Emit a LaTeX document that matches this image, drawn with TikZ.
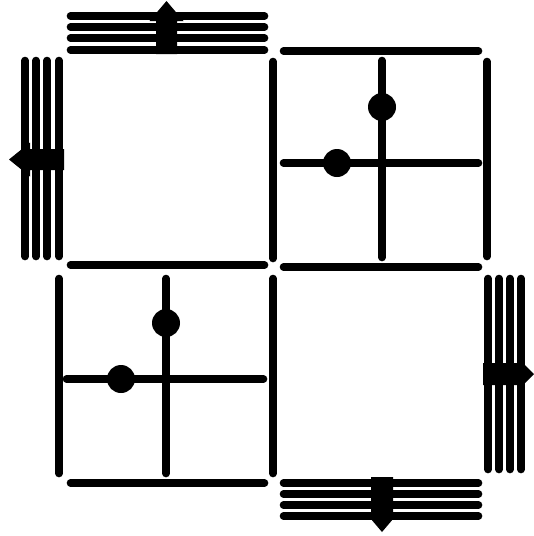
\documentclass[tikz,border=0pt]{standalone}
\tikzset{
  wall/.style={line width=7.6pt, line cap=round, draw=black},
  bead/.style={fill=black},
  bigarrow/.style={fill=black}
}
\begin{document}
\begin{tikzpicture}[x=1pt,y=-1pt]
\useasboundingbox (0,0) rectangle (534,536);
% top-left cell
\foreach \y in {16,27,38,50} \draw[wall] (70.5,\y) -- (264.5,\y);
\foreach \x in {25,36,47,59} \draw[wall] (\x,60.5) -- (\x,256.5);
\draw[wall] (273,61.5) -- (273,258.5);
\draw[wall] (70.5,265) -- (264.5,265);
% top-right cell
\draw[wall] (283.5,51) -- (478.5,51);
\draw[wall] (487,61.5) -- (487,256.5);
\draw[wall] (382,60.5) -- (382,257.5);
\draw[wall] (283.5,163) -- (478.5,163);
\draw[wall] (283.5,267) -- (478.5,267);
\fill[bead] (382,107) circle (14pt);
\fill[bead] (337,163) circle (14pt);
% bottom-left cell
\draw[wall] (59,278.5) -- (59,473.5);
\draw[wall] (273,278.5) -- (273,473.5);
\draw[wall] (166,278.5) -- (166,473.5);
\draw[wall] (66.5,379) -- (263.5,379);
\draw[wall] (70.5,483) -- (264.5,483);
\fill[bead] (166,323) circle (14pt);
\fill[bead] (121,379) circle (14pt);
% bottom-right cell
\foreach \y in {483,494,505,516} \draw[wall] (283.5,\y) -- (478.5,\y);
\foreach \x in {488,499,510,521} \draw[wall] (\x,278.5) -- (\x,469.5);
% arrows
\fill[bigarrow] (156,54) -- (156,21) -- (149.5,21) -- (166.5,1) -- (183.5,21) -- (177,21) -- (177,54) -- cycle;
\fill[bigarrow] (64,149) -- (30,149) -- (30,142.5) -- (9,159.5) -- (30,176.5) -- (30,170) -- (64,170) -- cycle;
\fill[bigarrow] (371,477) -- (371,512) -- (365,512) -- (382,532) -- (399,512) -- (393,512) -- (393,477) -- cycle;
\fill[bigarrow] (483,363) -- (517,363) -- (517,357) -- (534,374) -- (517,391) -- (517,385) -- (483,385) -- cycle;
\end{tikzpicture}
\end{document}
